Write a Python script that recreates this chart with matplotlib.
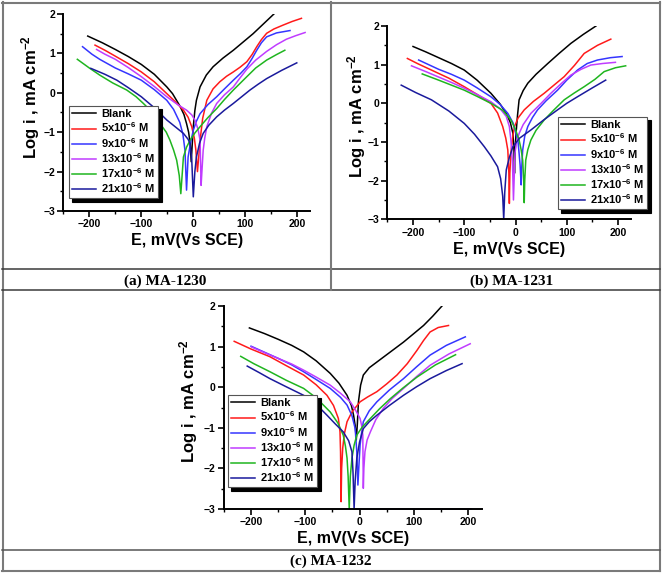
import numpy as np
import matplotlib.pyplot as plt
from matplotlib.lines import Line2D

plt.rcParams['font.family'] = ['Liberation Sans', 'DejaVu Sans']
plt.rcParams['mathtext.fontset'] = 'custom'
plt.rcParams['mathtext.rm'] = 'Liberation Sans'
plt.rcParams['mathtext.bf'] = 'Liberation Sans:bold'
plt.rcParams['mathtext.default'] = 'bf'

labels = ['Blank', '5x10$^{-6}$ M', '9x10$^{-6}$ M', '13x10$^{-6}$ M',
          '17x10$^{-6}$ M', '21x10$^{-6}$ M']
colors = ['#000000', '#ff1a1a', '#3535ff', '#c03cff', '#1fb51f', '#1a1a9c']
captions = ['(a) MA-1230', '(b) MA-1231', '(c) MA-1232']

# (a) MA-1230 : potential (mV) and log i for each concentration
a_E = [
    [-203, -175, -150, -125, -100, -75, -51, -40, -26, -18, -13, -9, -6, -4, -2, 0, 3, 6, 13, 25, 38, 57, 77, 96, 115, 135, 155],
    [-189, -170, -150, -125, -100, -75, -51, -35, -19, -10, -3, 2, 5, 8, 11, 14, 18, 26, 38, 51, 64, 77, 90, 103, 113, 122, 131, 141, 155, 173, 190, 208],
    [-213, -195, -180, -150, -125, -100, -75, -51, -38, -26, -20, -16, -13, -10, -5, 0, 6, 13, 28, 45, 60, 77, 90, 103, 113, 122, 131, 141, 160, 186],
    [-186, -170, -150, -125, -100, -75, -51, -30, -13, -3, 3, 9, 13, 15, 17, 19, 22, 26, 35, 45, 60, 77, 90, 103, 120, 141, 160, 179, 197, 215],
    [-223, -200, -180, -155, -128, -110, -96, -80, -64, -52, -45, -38, -32, -27, -24, -21, -19, -13, -6, 3, 13, 28, 45, 60, 77, 90, 103, 120, 141, 160, 176],
    [-197, -170, -147, -125, -100, -75, -51, -35, -19, -10, -6, -3, 0, 3, 6, 12, 19, 30, 45, 60, 77, 93, 109, 125, 141, 170, 199],
]
a_logi = [
    [1.44, 1.27, 1.10, 0.92, 0.72, 0.47, 0.15, -0.02, -0.33, -0.55, -0.78, -1.00, -1.29, -1.75, -1.30, -0.86, -0.45, -0.19, 0.15, 0.45, 0.66, 0.88, 1.08, 1.29, 1.50, 1.75, 2.00],
    [1.21, 1.08, 0.93, 0.74, 0.53, 0.28, -0.02, -0.22, -0.44, -0.62, -0.86, -1.15, -1.46, -2.00, -1.54, -1.10, -0.65, -0.19, 0.10, 0.28, 0.42, 0.53, 0.65, 0.79, 0.97, 1.17, 1.35, 1.51, 1.62, 1.72, 1.81, 1.89],
    [1.17, 0.98, 0.85, 0.63, 0.48, 0.32, 0.08, -0.19, -0.42, -0.75, -1.05, -1.46, -2.47, -1.63, -1.25, -0.95, -0.72, -0.53, -0.30, -0.10, 0.10, 0.32, 0.48, 0.66, 0.87, 1.08, 1.27, 1.42, 1.52, 1.58],
    [1.10, 0.98, 0.85, 0.64, 0.41, 0.16, -0.10, -0.30, -0.44, -0.56, -0.69, -0.92, -1.20, -2.35, -1.90, -1.46, -1.15, -0.86, -0.52, -0.27, -0.05, 0.15, 0.38, 0.60, 0.83, 1.05, 1.22, 1.36, 1.45, 1.53],
    [0.85, 0.63, 0.45, 0.25, 0.07, -0.10, -0.27, -0.48, -0.78, -1.00, -1.20, -1.45, -1.71, -2.10, -2.56, -2.00, -1.63, -1.38, -1.20, -1.02, -0.86, -0.63, -0.40, -0.17, 0.07, 0.24, 0.41, 0.63, 0.83, 0.97, 1.08],
    [0.62, 0.47, 0.32, 0.13, -0.10, -0.38, -0.69, -0.86, -1.03, -1.18, -1.29, -1.70, -2.64, -2.00, -1.63, -1.28, -1.03, -0.82, -0.61, -0.44, -0.27, -0.10, 0.07, 0.22, 0.36, 0.57, 0.76],
]

# (b) MA-1231
b_E = [
    [-200, -175, -150, -125, -100, -75, -48, -30, -18, -10, -5, -3, -2, -1, 1, 4, 7, 15, 24, 40, 63, 85, 108, 132, 157],
    [-211, -190, -164, -130, -100, -75, -48, -35, -25, -19, -15, -13, -12, -11, -9, -6, -2, 5, 17, 35, 56, 75, 95, 115, 134, 160, 186],
    [-189, -150, -125, -100, -75, -48, -30, -15, -5, 1, 5, 7, 9, 11, 12, 14, 18, 24, 33, 43, 60, 82, 100, 121, 140, 160, 185, 208],
    [-203, -175, -150, -125, -100, -75, -48, -30, -18, -12, -9, -6, -4, -2, -1, 2, 7, 15, 30, 50, 69, 90, 108, 128, 147, 170, 195],
    [-182, -150, -125, -100, -75, -48, -25, -9, 0, 7, 11, 14, 16, 17, 18, 20, 24, 30, 40, 56, 75, 95, 115, 134, 155, 173, 195, 215],
    [-223, -195, -164, -130, -100, -80, -61, -48, -35, -29, -25, -23, -21, -18, -12, -5, 8, 30, 55, 82, 100, 121, 150, 176],
]
b_logi = [
    [1.47, 1.33, 1.18, 1.03, 0.86, 0.60, 0.26, -0.02, -0.26, -0.50, -0.78, -1.20, -1.81, -1.30, -0.78, -0.30, 0.09, 0.33, 0.52, 0.75, 1.03, 1.29, 1.55, 1.78, 2.00],
    [1.16, 1.02, 0.86, 0.65, 0.43, 0.23, 0.00, -0.25, -0.60, -0.90, -1.21, -1.80, -2.59, -1.80, -1.29, -0.92, -0.60, -0.38, -0.17, 0.05, 0.26, 0.47, 0.69, 0.98, 1.29, 1.50, 1.66],
    [1.12, 0.88, 0.75, 0.60, 0.40, 0.17, -0.03, -0.26, -0.50, -0.78, -1.00, -1.29, -1.60, -2.11, -1.70, -1.21, -0.85, -0.60, -0.37, -0.17, 0.07, 0.34, 0.60, 0.86, 1.03, 1.12, 1.18, 1.21],
    [0.97, 0.82, 0.68, 0.54, 0.39, 0.23, 0.04, -0.14, -0.34, -0.60, -0.95, -1.50, -2.50, -1.70, -1.29, -1.00, -0.78, -0.55, -0.26, 0.00, 0.26, 0.52, 0.73, 0.88, 0.99, 1.03, 1.06],
    [0.76, 0.60, 0.47, 0.34, 0.18, 0.00, -0.18, -0.43, -0.68, -0.95, -1.20, -1.47, -2.00, -2.57, -2.00, -1.47, -1.20, -0.95, -0.70, -0.43, -0.17, 0.09, 0.27, 0.43, 0.62, 0.82, 0.92, 0.97],
    [0.47, 0.28, 0.09, -0.20, -0.52, -0.80, -1.12, -1.36, -1.64, -1.95, -2.40, -3.00, -2.30, -1.72, -1.40, -1.12, -0.90, -0.69, -0.43, -0.17, 0.00, 0.17, 0.40, 0.60],
]

# (c) MA-1232
c_E = [
    [-203, -175, -150, -125, -103, -80, -54, -38, -23, -15, -11, -8, -6, -4, -2, 2, 7, 18, 32, 55, 81, 100, 118, 135, 152],
    [-231, -200, -165, -135, -103, -80, -60, -48, -39, -36, -35, -34, -33, -31, -28, -23, -14, 1, 15, 32, 50, 69, 88, 106, 118, 130, 145, 164],
    [-200, -175, -150, -125, -103, -80, -54, -35, -23, -14, -8, -5, -3, -1, 1, 4, 7, 18, 32, 55, 81, 105, 130, 160, 195],
    [-199, -175, -150, -125, -103, -80, -54, -35, -17, -8, 1, 4, 6, 7, 8, 10, 14, 20, 30, 44, 60, 81, 105, 130, 165, 204],
    [-219, -195, -165, -135, -103, -80, -54, -40, -30, -26, -23, -21, -19, -17, -14, -10, -5, 5, 20, 37, 57, 80, 106, 140, 177],
    [-207, -185, -165, -135, -103, -80, -60, -45, -30, -20, -14, -12, -10, -8, -5, 0, 7, 18, 32, 55, 81, 105, 130, 160, 189],
]
c_logi = [
    [1.46, 1.32, 1.18, 1.03, 0.87, 0.65, 0.34, 0.10, -0.20, -0.45, -0.69, -0.95, -1.30, -0.90, -0.36, 0.05, 0.30, 0.48, 0.62, 0.85, 1.11, 1.32, 1.52, 1.75, 2.00],
    [1.13, 0.94, 0.75, 0.53, 0.30, 0.06, -0.20, -0.45, -0.77, -1.10, -1.59, -2.82, -2.00, -1.50, -1.15, -0.85, -0.61, -0.36, -0.24, -0.11, 0.08, 0.30, 0.58, 0.91, 1.15, 1.36, 1.47, 1.52],
    [1.01, 0.86, 0.71, 0.55, 0.38, 0.19, -0.03, -0.25, -0.44, -0.70, -1.02, -1.60, -2.41, -1.90, -1.43, -1.10, -0.85, -0.58, -0.36, -0.07, 0.21, 0.50, 0.79, 1.03, 1.24],
    [0.99, 0.85, 0.71, 0.57, 0.42, 0.25, 0.05, -0.15, -0.36, -0.55, -0.77, -0.95, -1.18, -2.49, -2.00, -1.59, -1.30, -1.10, -0.80, -0.52, -0.28, -0.03, 0.26, 0.54, 0.82, 1.07],
    [0.76, 0.58, 0.38, 0.17, -0.03, -0.26, -0.61, -0.88, -1.18, -1.45, -1.75, -2.20, -3.00, -2.20, -1.75, -1.43, -1.18, -0.98, -0.77, -0.53, -0.28, -0.02, 0.25, 0.55, 0.80],
    [0.52, 0.36, 0.21, 0.01, -0.20, -0.42, -0.69, -0.90, -1.10, -1.32, -1.59, -2.10, -3.00, -2.30, -1.75, -1.35, -1.02, -0.85, -0.69, -0.45, -0.20, 0.01, 0.21, 0.41, 0.58],
]
c_floor_E = [-10, 205]
c_floor_logi = [-3, -3]

W, H = 662, 573
fig = plt.figure(figsize=(W / 100, H / 100), dpi=100)


def px_rect(left, top, right, bottom):
    return [left / W, 1 - bottom / H, (right - left) / W, (bottom - top) / H]


def panel(box, E_all, I_all, leg_xy, ylab_xy):
    left, top, right, bottom = box
    ax = fig.add_axes(px_rect(left, top, right, bottom))
    for E, I, c, lab in zip(E_all, I_all, colors, labels):
        ax.plot(E, I, color=c, lw=1.1, label=lab)
    ax.set_xlim(-250, 225)
    ax.set_ylim(-3, 2)
    ax.spines['top'].set_visible(False)
    ax.spines['right'].set_visible(False)
    for s in ['left', 'bottom']:
        ax.spines[s].set_linewidth(1.4)
    ax.set_xticks([-200, -100, 0, 100, 200])
    ax.set_xticks([-250, -150, -50, 50, 150], minor=True)
    ax.set_yticks([-3, -2, -1, 0, 1, 2])
    ax.set_yticks([-2.5, -1.5, -0.5, 0.5, 1.5], minor=True)
    ax.tick_params(direction='out', width=1.2, length=4, labelsize=7.5, pad=2)
    ax.tick_params(which='minor', direction='out', width=1.0, length=2.5)
    for t in ax.get_xticklabels() + ax.get_yticklabels():
        t.set_fontweight('bold')
    ax.set_xlabel('E, mV(Vs SCE)', fontsize=11.5, fontweight='bold', labelpad=3)
    ax.set_ylabel('Log i , mA cm$^{-2}$', fontsize=12, fontweight='bold')
    ax.yaxis.set_label_coords((ylab_xy[0] - left) / (right - left),
                              (bottom - ylab_xy[1]) / (bottom - top))
    leg = ax.legend(loc='upper left', bbox_to_anchor=(leg_xy[0] / W, 1 - leg_xy[1] / H),
                    bbox_transform=fig.transFigure, prop={'size': 8, 'weight': 'bold'},
                    fancybox=False, framealpha=1, edgecolor='#555555',
                    shadow={'ox': 2.5, 'oy': -2.5, 'color': 'black', 'alpha': 1},
                    borderpad=0.3, labelspacing=0.12, handlelength=2.1,
                    handletextpad=0.5, borderaxespad=0)
    leg.get_frame().set_linewidth(0.8)
    return ax


ax_a = panel((63.3, 14, 310.3, 211), a_E, a_logi, (69, 106), (42, 97))
ax_b = panel((387.4, 26, 630.8, 219.3), b_E, b_logi, (558, 117), (368, 116))
ax_c = panel((223.9, 306, 481.6, 509), c_E, c_logi, (228, 395), (200, 401))
ax_c.plot(c_floor_E, c_floor_logi, color=colors[5], lw=1.1, clip_on=False)


# table frame
def hline(y, x0, x1, color, lw):
    fig.add_artist(Line2D([x0 / W, x1 / W], [1 - y / H, 1 - y / H],
                          transform=fig.transFigure, color=color, lw=lw))


def vline(x, y0, y1, color, lw):
    fig.add_artist(Line2D([x / W, x / W], [1 - y0 / H, 1 - y1 / H],
                          transform=fig.transFigure, color=color, lw=lw))


hline(2.5, 2, 660, '#7a7a7a', 1.5)
hline(570.5, 2, 660, '#7a7a7a', 1.5)
vline(2.5, 2, 571, '#7a7a7a', 1.5)
vline(659.5, 2, 571, '#7a7a7a', 1.5)
hline(269, 2, 660, '#3a3a3a', 1.1)
hline(290, 2, 660, '#3a3a3a', 1.1)
hline(550, 2, 660, '#555555', 1.1)
vline(331, 2, 290, '#7a7a7a', 1.5)

cap_font = dict(family='Liberation Serif', fontweight='bold', fontsize=11,
                ha='center', va='center')
fig.text(165 / W, 1 - 281 / H, captions[0], **cap_font)
fig.text(512 / W, 1 - 281 / H, captions[1], **cap_font)
fig.text(331 / W, 1 - 561 / H, captions[2], **cap_font)

fig.savefig('out.png', dpi=100)
